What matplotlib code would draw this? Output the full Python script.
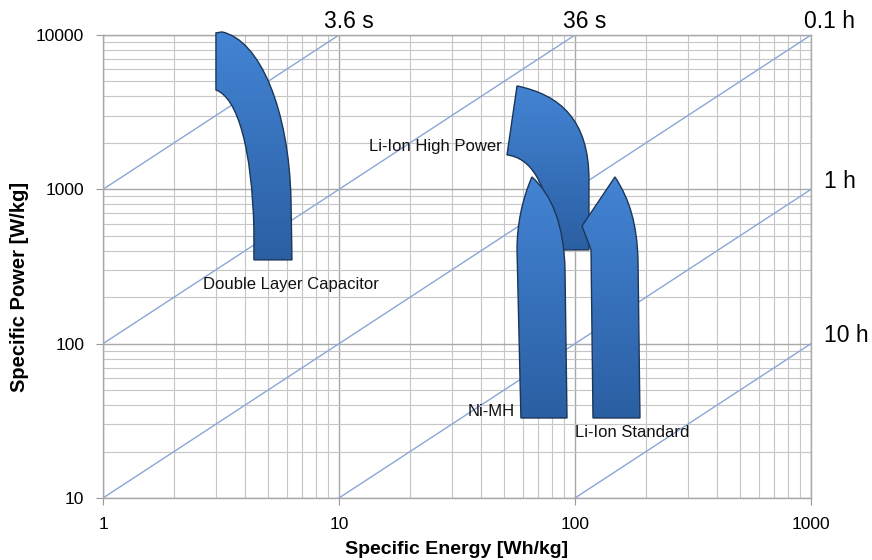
import numpy as np
import matplotlib.pyplot as plt
from matplotlib.path import Path
from matplotlib.patches import PathPatch
from matplotlib.colors import LinearSegmentedColormap
from matplotlib.ticker import NullFormatter

plt.rcParams['font.family'] = ['Liberation Sans', 'DejaVu Sans']

# diagonal lines of constant discharge time, P = E / t  (t in hours)
line_hours = [0.001, 0.01, 0.1, 1, 10]
top_labels = ["3.6 s", "36 s", "0.1 h"]
top_label_x = [10, 100, 1000]
right_labels = ["1 h", "10 h"]
right_label_y = [1000, 100]

x_ticks = [1, 10, 100, 1000]
y_ticks = [10, 100, 1000, 10000]

M, L, C, Z = Path.MOVETO, Path.LINETO, Path.CURVE4, Path.CLOSEPOLY

# region outlines: specific energy [Wh/kg], specific power [W/kg], path code
li_hp_E = [56.8, 51.5, 64.5, 76.8, 83.1, 114.6, 114.6, 114.6, 86.4, 56.8, 56.8]
li_hp_P = [4677, 1671, 1597, 1151, 405, 405, 1151, 2817, 4091, 4677, 4677]
li_hp_codes = [M, L, C, C, C, L, L, C, C, C, Z]

nimh_E = [65.7, 79.9, 89.8, 90.7, 92.5, 59.0, 56.8, 56.8, 59.6, 65.7, 65.7]
nimh_P = [1203, 919, 588, 300, 33.0, 33.0, 405, 588, 854, 1203, 1203]
nimh_codes = [M, C, C, C, L, L, L, C, C, C, Z]

li_std_E = [147.7, 171.0, 183.1, 184.9, 188.5, 119.2, 116.9, 107.1, 147.7]
li_std_P = [1203, 854, 588, 349, 33.0, 33.0, 405, 579, 1203]
li_std_codes = [M, C, C, C, L, L, L, L, Z]

dlc_E = [3.01, 3.01, 3.73, 4.28, 4.36, 4.36, 6.32, 6.26, 6.14, 4.63, 3.19, 3.01]
dlc_P = [10318, 4406, 3912, 1800, 546, 349, 349, 854, 3270, 9290, 10470, 10318]
dlc_codes = [M, L, C, C, C, L, L, L, C, C, C, Z]

regions = [
    (li_hp_E, li_hp_P, li_hp_codes),
    (nimh_E, nimh_P, nimh_codes),
    (li_std_E, li_std_P, li_std_codes),
    (dlc_E, dlc_P, dlc_codes),
]

region_labels = ["Li-Ion High Power", "Ni-MH", "Li-Ion Standard", "Double Layer Capacitor"]
label_E = [49.1, 55.7, 100, 6.27]
label_P = [1883, 36.1, 26.4, 240]
label_ha = ["right", "right", "left", "center"]

fig = plt.figure(figsize=(8.72, 5.6), dpi=100)
ax = fig.add_axes([103 / 872, 62 / 560, 708 / 872, 463 / 560])
ax.set_xscale("log")
ax.set_yscale("log")
ax.set_xlim(1, 1000)
ax.set_ylim(10, 10000)

ax.set_axisbelow(True)
ax.grid(True, which="major", color="#a8a8a8", lw=1.0)
ax.grid(True, which="minor", color="#c6c6c6", lw=0.8)
for s in ax.spines.values():
    s.set_color("#a8a8a8")
    s.set_linewidth(1.0)

ax.set_xticks(x_ticks, labels=[str(v) for v in x_ticks])
ax.set_yticks(y_ticks, labels=[str(v) for v in y_ticks])
ax.xaxis.set_minor_formatter(NullFormatter())
ax.yaxis.set_minor_formatter(NullFormatter())
ax.tick_params(which="major", length=5, color="#999999", pad=8.5, labelsize=12.5)
ax.tick_params(which="minor", length=0)

# constant-time lines
E_line = np.array([1.0, 1000.0])
for t in line_hours:
    ax.plot(E_line, E_line / t, color="#8aa6d6", lw=1.0, zorder=1.5)

# gradient filled regions
grad_cmap = LinearSegmentedColormap.from_list("blu", ["#2b5fa3", "#4384d4"])
grad = np.linspace(0, 1, 256).reshape(-1, 1)
to_axes = ax.transData + ax.transAxes.inverted()
z = 2.0
for E, P, codes in regions:
    path = Path(np.column_stack([E, P]), codes)
    edge = PathPatch(path, facecolor="none", edgecolor="#1c3658", lw=1.0,
                     zorder=z + 0.1, clip_on=False)
    ax.add_patch(edge)
    ext = path.get_extents(to_axes)
    im = ax.imshow(grad, cmap=grad_cmap, origin="lower", aspect="auto",
                   extent=[ext.x0, ext.x1, ext.y0, ext.y1],
                   transform=ax.transAxes, zorder=z, interpolation="bilinear")
    im.set_clip_path(edge)
    im.set_clip_box(fig.bbox)
    z += 0.2

ax.set_xlim(1, 1000)
ax.set_ylim(10, 10000)

for txt, x, y, ha in zip(region_labels, label_E, label_P, label_ha):
    ax.text(x, y, txt, ha=ha, va="center", fontsize=12, color="#111111", zorder=5)

top_dx = [7, 7, 13.5]
for txt, x, dx in zip(top_labels, top_label_x, top_dx):
    ax.annotate(txt, xy=(x, 10000), xytext=(dx, 10), textcoords="offset points",
                ha="center", va="center", fontsize=16.5, annotation_clip=False)
for txt, y in zip(right_labels, right_label_y):
    ax.annotate(txt, xy=(1000, y), xytext=(9, 6), textcoords="offset points",
                ha="left", va="center", fontsize=16.5, annotation_clip=False)

fig.text(457 / 872, 1 - 550 / 560, "Specific Energy [Wh/kg]", ha="center", va="center",
         fontsize=14, fontweight="bold")
fig.text(20 / 872, 1 - 287 / 560, "Specific Power [W/kg]", ha="center", va="center",
         rotation=90, fontsize=14.5, fontweight="bold")

fig.savefig("out.png", dpi=100)
